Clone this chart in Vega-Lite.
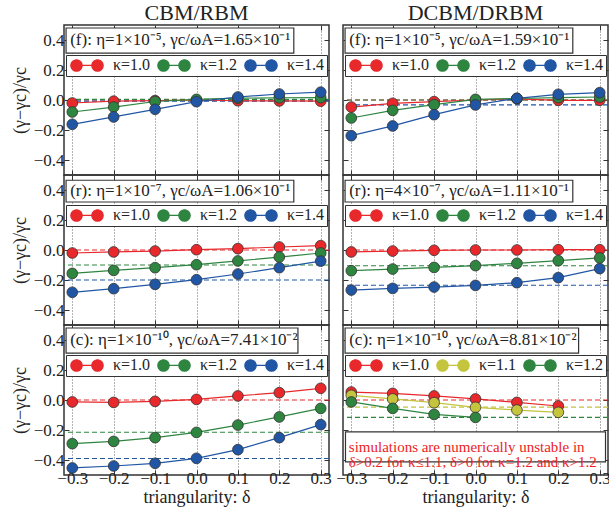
{
"$schema": "https://vega.github.io/schema/vega-lite/v6.json",
"padding": {"left": 10, "top": 0, "right": 2, "bottom": 2},
"background": "white",
"config": {
  "font": "Liberation Serif",
  "view": {"stroke": "#333", "strokeWidth": 1.5},
  "axis": {"labelFont": "Liberation Serif", "labelFontSize": 17, "labelColor": "#222", "titleFont": "Liberation Serif", "titleFontSize": 18, "titleFontWeight": "normal", "titleColor": "#222", "domain": false, "tickSize": -5, "tickColor": "#333", "tickWidth": 1, "grid": true, "gridColor": "#666", "gridDash": [1, 2], "gridWidth": 1},
  "axisX": {"labelPadding": 0, "titlePadding": 2},
  "axisY": {"labelPadding": 5, "titlePadding": 4},
  "legend": {"orient": "none", "legendX": 2, "legendY": 30, "direction": "horizontal", "columns": 3, "padding": 2, "strokeColor": "#333", "fillColor": "white", "symbolType": "M -2.7 0 A 0.95 0.95 0 1 0 -0.8 0 A 0.95 0.95 0 1 0 -2.7 0 Z M 0.8 0 A 0.95 0.95 0 1 0 2.7 0 A 0.95 0.95 0 1 0 0.8 0 Z M -0.8 0 L 0.8 0", "symbolSize": 144, "symbolOffset": 11, "labelOffset": 18, "columnPadding": 4, "rowPadding": 0, "labelFontSize": 16, "labelFont": "Liberation Serif", "labelColor": "#222", "symbolStrokeWidth": 1.2, "symbolOpacity": 1}
},
"datasets": {
  "f_cbm": [
    {"d": -0.3, "k": "κ=1.0", "v": -0.02}, {"d": -0.2, "k": "κ=1.0", "v": -0.008}, {"d": -0.1, "k": "κ=1.0", "v": -0.004}, {"d": 0.0, "k": "κ=1.0", "v": 0.0}, {"d": 0.1, "k": "κ=1.0", "v": -0.005}, {"d": 0.2, "k": "κ=1.0", "v": -0.006}, {"d": 0.3, "k": "κ=1.0", "v": -0.008},
    {"d": -0.3, "k": "κ=1.2", "v": -0.08}, {"d": -0.2, "k": "κ=1.2", "v": -0.047}, {"d": -0.1, "k": "κ=1.2", "v": -0.01}, {"d": 0.0, "k": "κ=1.2", "v": 0.004}, {"d": 0.1, "k": "κ=1.2", "v": 0.012}, {"d": 0.2, "k": "κ=1.2", "v": 0.015}, {"d": 0.3, "k": "κ=1.2", "v": 0.016},
    {"d": -0.3, "k": "κ=1.4", "v": -0.162}, {"d": -0.2, "k": "κ=1.4", "v": -0.113}, {"d": -0.1, "k": "κ=1.4", "v": -0.062}, {"d": 0.0, "k": "κ=1.4", "v": -0.011}, {"d": 0.1, "k": "κ=1.4", "v": 0.02}, {"d": 0.2, "k": "κ=1.4", "v": 0.04}, {"d": 0.3, "k": "κ=1.4", "v": 0.052}
  ],
  "f_cbm_ref": [{"k": "κ=1.0", "v": 0.0}, {"k": "κ=1.2", "v": 0.004}, {"k": "κ=1.4", "v": -0.007}],
  "f_dcbm": [
    {"d": -0.3, "k": "κ=1.0", "v": -0.047}, {"d": -0.2, "k": "κ=1.0", "v": -0.022}, {"d": -0.1, "k": "κ=1.0", "v": -0.011}, {"d": 0.0, "k": "κ=1.0", "v": 0.0}, {"d": 0.1, "k": "κ=1.0", "v": 0.008}, {"d": 0.2, "k": "κ=1.0", "v": -0.002}, {"d": 0.3, "k": "κ=1.0", "v": -0.002},
    {"d": -0.3, "k": "κ=1.2", "v": -0.12}, {"d": -0.2, "k": "κ=1.2", "v": -0.069}, {"d": -0.1, "k": "κ=1.2", "v": -0.031}, {"d": 0.0, "k": "κ=1.2", "v": 0.004}, {"d": 0.1, "k": "κ=1.2", "v": 0.01}, {"d": 0.2, "k": "κ=1.2", "v": 0.016}, {"d": 0.3, "k": "κ=1.2", "v": 0.02},
    {"d": -0.3, "k": "κ=1.4", "v": -0.238}, {"d": -0.2, "k": "κ=1.4", "v": -0.173}, {"d": -0.1, "k": "κ=1.4", "v": -0.098}, {"d": 0.0, "k": "κ=1.4", "v": -0.033}, {"d": 0.1, "k": "κ=1.4", "v": 0.011}, {"d": 0.2, "k": "κ=1.4", "v": 0.038}, {"d": 0.3, "k": "κ=1.4", "v": 0.049}
  ],
  "f_dcbm_ref": [{"k": "κ=1.0", "v": 0.0}, {"k": "κ=1.2", "v": 0.0}, {"k": "κ=1.4", "v": -0.033}],
  "r_cbm": [
    {"d": -0.3, "k": "κ=1.0", "v": -0.02}, {"d": -0.2, "k": "κ=1.0", "v": -0.013}, {"d": -0.1, "k": "κ=1.0", "v": -0.007}, {"d": 0.0, "k": "κ=1.0", "v": 0.002}, {"d": 0.1, "k": "κ=1.0", "v": 0.009}, {"d": 0.2, "k": "κ=1.0", "v": 0.02}, {"d": 0.3, "k": "κ=1.0", "v": 0.029},
    {"d": -0.3, "k": "κ=1.2", "v": -0.156}, {"d": -0.2, "k": "κ=1.2", "v": -0.136}, {"d": -0.1, "k": "κ=1.2", "v": -0.118}, {"d": 0.0, "k": "κ=1.2", "v": -0.098}, {"d": 0.1, "k": "κ=1.2", "v": -0.073}, {"d": 0.2, "k": "κ=1.2", "v": -0.047}, {"d": 0.3, "k": "κ=1.2", "v": -0.02},
    {"d": -0.3, "k": "κ=1.4", "v": -0.282}, {"d": -0.2, "k": "κ=1.4", "v": -0.258}, {"d": -0.1, "k": "κ=1.4", "v": -0.229}, {"d": 0.0, "k": "κ=1.4", "v": -0.198}, {"d": 0.1, "k": "κ=1.4", "v": -0.16}, {"d": 0.2, "k": "κ=1.4", "v": -0.118}, {"d": 0.3, "k": "κ=1.4", "v": -0.074}
  ],
  "r_cbm_ref": [{"k": "κ=1.0", "v": 0.0}, {"k": "κ=1.2", "v": -0.1}, {"k": "κ=1.4", "v": -0.2}],
  "r_dcbm": [
    {"d": -0.3, "k": "κ=1.0", "v": -0.013}, {"d": -0.2, "k": "κ=1.0", "v": -0.007}, {"d": -0.1, "k": "κ=1.0", "v": -0.002}, {"d": 0.0, "k": "κ=1.0", "v": 0.0}, {"d": 0.1, "k": "κ=1.0", "v": 0.0}, {"d": 0.2, "k": "κ=1.0", "v": 0.002}, {"d": 0.3, "k": "κ=1.0", "v": 0.002},
    {"d": -0.3, "k": "κ=1.2", "v": -0.138}, {"d": -0.2, "k": "κ=1.2", "v": -0.127}, {"d": -0.1, "k": "κ=1.2", "v": -0.116}, {"d": 0.0, "k": "κ=1.2", "v": -0.104}, {"d": 0.1, "k": "κ=1.2", "v": -0.089}, {"d": 0.2, "k": "κ=1.2", "v": -0.071}, {"d": 0.3, "k": "κ=1.2", "v": -0.053},
    {"d": -0.3, "k": "κ=1.4", "v": -0.267}, {"d": -0.2, "k": "κ=1.4", "v": -0.256}, {"d": -0.1, "k": "κ=1.4", "v": -0.247}, {"d": 0.0, "k": "κ=1.4", "v": -0.236}, {"d": 0.1, "k": "κ=1.4", "v": -0.218}, {"d": 0.2, "k": "κ=1.4", "v": -0.184}, {"d": 0.3, "k": "κ=1.4", "v": -0.124}
  ],
  "r_dcbm_ref": [{"k": "κ=1.0", "v": 0.0}, {"k": "κ=1.2", "v": -0.105}, {"k": "κ=1.4", "v": -0.235}],
  "c_cbm": [
    {"d": -0.3, "k": "κ=1.0", "v": -0.013}, {"d": -0.2, "k": "κ=1.0", "v": -0.016}, {"d": -0.1, "k": "κ=1.0", "v": -0.009}, {"d": 0.0, "k": "κ=1.0", "v": 0.004}, {"d": 0.1, "k": "κ=1.0", "v": 0.027}, {"d": 0.2, "k": "κ=1.0", "v": 0.049}, {"d": 0.3, "k": "κ=1.0", "v": 0.078},
    {"d": -0.3, "k": "κ=1.2", "v": -0.291}, {"d": -0.2, "k": "κ=1.2", "v": -0.276}, {"d": -0.1, "k": "κ=1.2", "v": -0.251}, {"d": 0.0, "k": "κ=1.2", "v": -0.216}, {"d": 0.1, "k": "κ=1.2", "v": -0.167}, {"d": 0.2, "k": "κ=1.2", "v": -0.113}, {"d": 0.3, "k": "κ=1.2", "v": -0.056},
    {"d": -0.3, "k": "κ=1.4", "v": -0.453}, {"d": -0.2, "k": "κ=1.4", "v": -0.44}, {"d": -0.1, "k": "κ=1.4", "v": -0.422}, {"d": 0.0, "k": "κ=1.4", "v": -0.389}, {"d": 0.1, "k": "κ=1.4", "v": -0.331}, {"d": 0.2, "k": "κ=1.4", "v": -0.251}, {"d": 0.3, "k": "κ=1.4", "v": -0.164}
  ],
  "c_cbm_ref": [{"k": "κ=1.0", "v": 0.0}, {"k": "κ=1.2", "v": -0.215}, {"k": "κ=1.4", "v": -0.39}],
  "c_dcbm": [
    {"d": -0.3, "k": "κ=1.0", "v": 0.053}, {"d": -0.2, "k": "κ=1.0", "v": 0.044}, {"d": -0.1, "k": "κ=1.0", "v": 0.027}, {"d": 0.0, "k": "κ=1.0", "v": 0.007}, {"d": 0.1, "k": "κ=1.0", "v": -0.016}, {"d": 0.2, "k": "κ=1.0", "v": -0.04},
    {"d": -0.3, "k": "κ=1.1", "v": 0.031}, {"d": -0.2, "k": "κ=1.1", "v": 0.007}, {"d": -0.1, "k": "κ=1.1", "v": -0.018}, {"d": 0.0, "k": "κ=1.1", "v": -0.049}, {"d": 0.1, "k": "κ=1.1", "v": -0.067}, {"d": 0.2, "k": "κ=1.1", "v": -0.082},
    {"d": -0.3, "k": "κ=1.2", "v": -0.013}, {"d": -0.2, "k": "κ=1.2", "v": -0.056}, {"d": -0.1, "k": "κ=1.2", "v": -0.096}, {"d": 0.0, "k": "κ=1.2", "v": -0.116}
  ],
  "c_dcbm_ref": [{"k": "κ=1.0", "v": 0.0}, {"k": "κ=1.1", "v": -0.047}, {"k": "κ=1.2", "v": -0.116}]
},
"columns": 2,
"bounds": "flush",
"spacing": {"row": 0, "column": 14},
"resolve": {"scale": {"color": "independent", "x": "independent", "y": "independent"}, "legend": {"color": "independent"}},
"concat": [
  {"width": 265, "height": 150,
   "title": {"text": "CBM/RBM", "fontSize": 22, "font": "Liberation Serif", "fontWeight": "normal", "color": "#222", "offset": 0, "frame": "group"},
   "resolve": {"axis": {"x": "independent", "y": "independent"}},
   "layer": [
    {"data": {"name": "f_cbm_ref"}, "mark": {"type": "rule", "strokeDash": [5, 3], "strokeWidth": 1.2},
     "encoding": {"y": {"field": "v", "type": "quantitative", "scale": {"domain": [-0.5, 0.5], "nice": false, "zero": false}, "axis": null},
                  "color": {"field": "k", "type": "nominal", "scale": {"domain": ["κ=1.0", "κ=1.2", "κ=1.4"], "range": ["#e8282b", "#2e8540", "#2156a5"]}}}},
    {"data": {"name": "f_cbm"}, "mark": {"type": "line", "strokeWidth": 1.2},
     "encoding": {"x": {"field": "d", "type": "quantitative", "scale": {"domain": [-0.32, 0.32], "nice": false, "zero": false}, "axis": {"values": [-0.3, -0.2, -0.1, 0, 0.1, 0.2, 0.3], "labels": false, "title": null}},
                  "y": {"field": "v", "type": "quantitative", "scale": {"domain": [-0.5, 0.5], "nice": false, "zero": false}, "axis": {"values": [-0.4, -0.2, 0, 0.2, 0.4], "format": ".1f", "title": "(γ−γc)/γc"}},
                  "color": {"field": "k", "type": "nominal", "scale": {"domain": ["κ=1.0", "κ=1.2", "κ=1.4"], "range": ["#e8282b", "#2e8540", "#2156a5"]}}}},
    {"data": {"name": "f_cbm"}, "mark": {"type": "point", "filled": true, "size": 115, "stroke": "#333", "strokeWidth": 0.8, "opacity": 1},
     "encoding": {"x": {"field": "d", "type": "quantitative", "axis": {"orient": "top", "values": [-0.3, -0.2, -0.1, 0, 0.1, 0.2, 0.3], "labels": false, "grid": false, "title": null}}, "y": {"field": "v", "type": "quantitative", "axis": {"orient": "right", "values": [-0.4, -0.2, 0, 0.2, 0.4], "labels": false, "grid": false, "title": null}},
                  "color": {"field": "k", "type": "nominal", "scale": {"domain": ["κ=1.0", "κ=1.2", "κ=1.4"], "range": ["#e8282b", "#2e8540", "#2156a5"]}, "legend": {"title": null, "encode": {"symbols": {"update": {"stroke": {"signal": "datum.value === 'κ=1.0' ? '#e8282b' : datum.value === 'κ=1.2' ? '#2e8540' : '#2156a5'"}}}}}}}},
    {"data": {"values": [{}]}, "mark": {"type": "rect", "fill": "white", "stroke": "#333", "strokeWidth": 1.2},
     "encoding": {"x": {"datum": -0.315, "type": "quantitative", "axis": null}, "x2": {"datum": 0.235}, "y": {"datum": 0.48, "type": "quantitative", "axis": null}, "y2": {"datum": 0.313}}},
    {"data": {"values": [{}]}, "mark": {"type": "text", "align": "left", "baseline": "middle", "fontSize": 17, "font": "Liberation Serif", "color": "#222"},
     "encoding": {"x": {"datum": -0.305, "type": "quantitative", "axis": null}, "y": {"datum": 0.397, "type": "quantitative", "axis": null}, "text": {"value": "(f): η=1×10⁻⁵, γc/ωA=1.65×10⁻¹"}}}
   ]},
  {"width": 265, "height": 150,
   "title": {"text": "DCBM/DRBM", "fontSize": 22, "font": "Liberation Serif", "fontWeight": "normal", "color": "#222", "offset": 0, "frame": "group"},
   "resolve": {"axis": {"x": "independent", "y": "independent"}},
   "layer": [
    {"data": {"name": "f_dcbm_ref"}, "mark": {"type": "rule", "strokeDash": [5, 3], "strokeWidth": 1.2},
     "encoding": {"y": {"field": "v", "type": "quantitative", "scale": {"domain": [-0.5, 0.5], "nice": false, "zero": false}, "axis": null},
                  "color": {"field": "k", "type": "nominal", "scale": {"domain": ["κ=1.0", "κ=1.2", "κ=1.4"], "range": ["#e8282b", "#2e8540", "#2156a5"]}}}},
    {"data": {"name": "f_dcbm"}, "mark": {"type": "line", "strokeWidth": 1.2},
     "encoding": {"x": {"field": "d", "type": "quantitative", "scale": {"domain": [-0.32, 0.32], "nice": false, "zero": false}, "axis": {"values": [-0.3, -0.2, -0.1, 0, 0.1, 0.2, 0.3], "labels": false, "title": null}},
                  "y": {"field": "v", "type": "quantitative", "scale": {"domain": [-0.5, 0.5], "nice": false, "zero": false}, "axis": {"values": [-0.4, -0.2, 0, 0.2, 0.4], "labels": false, "title": null}},
                  "color": {"field": "k", "type": "nominal", "scale": {"domain": ["κ=1.0", "κ=1.2", "κ=1.4"], "range": ["#e8282b", "#2e8540", "#2156a5"]}}}},
    {"data": {"name": "f_dcbm"}, "mark": {"type": "point", "filled": true, "size": 115, "stroke": "#333", "strokeWidth": 0.8, "opacity": 1},
     "encoding": {"x": {"field": "d", "type": "quantitative", "axis": {"orient": "top", "values": [-0.3, -0.2, -0.1, 0, 0.1, 0.2, 0.3], "labels": false, "grid": false, "title": null}}, "y": {"field": "v", "type": "quantitative", "axis": {"orient": "right", "values": [-0.4, -0.2, 0, 0.2, 0.4], "labels": false, "grid": false, "title": null}},
                  "color": {"field": "k", "type": "nominal", "scale": {"domain": ["κ=1.0", "κ=1.2", "κ=1.4"], "range": ["#e8282b", "#2e8540", "#2156a5"]}, "legend": {"title": null, "encode": {"symbols": {"update": {"stroke": {"signal": "datum.value === 'κ=1.0' ? '#e8282b' : datum.value === 'κ=1.2' ? '#2e8540' : '#2156a5'"}}}}}}}},
    {"data": {"values": [{}]}, "mark": {"type": "rect", "fill": "white", "stroke": "#333", "strokeWidth": 1.2},
     "encoding": {"x": {"datum": -0.315, "type": "quantitative", "axis": null}, "x2": {"datum": 0.235}, "y": {"datum": 0.48, "type": "quantitative", "axis": null}, "y2": {"datum": 0.313}}},
    {"data": {"values": [{}]}, "mark": {"type": "text", "align": "left", "baseline": "middle", "fontSize": 17, "font": "Liberation Serif", "color": "#222"},
     "encoding": {"x": {"datum": -0.305, "type": "quantitative", "axis": null}, "y": {"datum": 0.397, "type": "quantitative", "axis": null}, "text": {"value": "(f): η=1×10⁻⁵, γc/ωA=1.59×10⁻¹"}}}
   ]},
  {"width": 265, "height": 150,
   "resolve": {"axis": {"x": "independent", "y": "independent"}},
   "layer": [
    {"data": {"name": "r_cbm_ref"}, "mark": {"type": "rule", "strokeDash": [5, 3], "strokeWidth": 1.2},
     "encoding": {"y": {"field": "v", "type": "quantitative", "scale": {"domain": [-0.5, 0.5], "nice": false, "zero": false}, "axis": null},
                  "color": {"field": "k", "type": "nominal", "scale": {"domain": ["κ=1.0", "κ=1.2", "κ=1.4"], "range": ["#e8282b", "#2e8540", "#2156a5"]}}}},
    {"data": {"name": "r_cbm"}, "mark": {"type": "line", "strokeWidth": 1.2},
     "encoding": {"x": {"field": "d", "type": "quantitative", "scale": {"domain": [-0.32, 0.32], "nice": false, "zero": false}, "axis": {"values": [-0.3, -0.2, -0.1, 0, 0.1, 0.2, 0.3], "labels": false, "title": null}},
                  "y": {"field": "v", "type": "quantitative", "scale": {"domain": [-0.5, 0.5], "nice": false, "zero": false}, "axis": {"values": [-0.4, -0.2, 0, 0.2, 0.4], "format": ".1f", "title": "(γ−γc)/γc"}},
                  "color": {"field": "k", "type": "nominal", "scale": {"domain": ["κ=1.0", "κ=1.2", "κ=1.4"], "range": ["#e8282b", "#2e8540", "#2156a5"]}}}},
    {"data": {"name": "r_cbm"}, "mark": {"type": "point", "filled": true, "size": 115, "stroke": "#333", "strokeWidth": 0.8, "opacity": 1},
     "encoding": {"x": {"field": "d", "type": "quantitative", "axis": {"orient": "top", "values": [-0.3, -0.2, -0.1, 0, 0.1, 0.2, 0.3], "labels": false, "grid": false, "title": null}}, "y": {"field": "v", "type": "quantitative", "axis": {"orient": "right", "values": [-0.4, -0.2, 0, 0.2, 0.4], "labels": false, "grid": false, "title": null}},
                  "color": {"field": "k", "type": "nominal", "scale": {"domain": ["κ=1.0", "κ=1.2", "κ=1.4"], "range": ["#e8282b", "#2e8540", "#2156a5"]}, "legend": {"title": null, "encode": {"symbols": {"update": {"stroke": {"signal": "datum.value === 'κ=1.0' ? '#e8282b' : datum.value === 'κ=1.2' ? '#2e8540' : '#2156a5'"}}}}}}}},
    {"data": {"values": [{}]}, "mark": {"type": "rect", "fill": "white", "stroke": "#333", "strokeWidth": 1.2},
     "encoding": {"x": {"datum": -0.315, "type": "quantitative", "axis": null}, "x2": {"datum": 0.235}, "y": {"datum": 0.465, "type": "quantitative", "axis": null}, "y2": {"datum": 0.32}}},
    {"data": {"values": [{}]}, "mark": {"type": "text", "align": "left", "baseline": "middle", "fontSize": 17, "font": "Liberation Serif", "color": "#222"},
     "encoding": {"x": {"datum": -0.305, "type": "quantitative", "axis": null}, "y": {"datum": 0.392, "type": "quantitative", "axis": null}, "text": {"value": "(r): η=1×10⁻⁷, γc/ωA=1.06×10⁻¹"}}}
   ]},
  {"width": 265, "height": 150,
   "resolve": {"axis": {"x": "independent", "y": "independent"}},
   "layer": [
    {"data": {"name": "r_dcbm_ref"}, "mark": {"type": "rule", "strokeDash": [5, 3], "strokeWidth": 1.2},
     "encoding": {"y": {"field": "v", "type": "quantitative", "scale": {"domain": [-0.5, 0.5], "nice": false, "zero": false}, "axis": null},
                  "color": {"field": "k", "type": "nominal", "scale": {"domain": ["κ=1.0", "κ=1.2", "κ=1.4"], "range": ["#e8282b", "#2e8540", "#2156a5"]}}}},
    {"data": {"name": "r_dcbm"}, "mark": {"type": "line", "strokeWidth": 1.2},
     "encoding": {"x": {"field": "d", "type": "quantitative", "scale": {"domain": [-0.32, 0.32], "nice": false, "zero": false}, "axis": {"values": [-0.3, -0.2, -0.1, 0, 0.1, 0.2, 0.3], "labels": false, "title": null}},
                  "y": {"field": "v", "type": "quantitative", "scale": {"domain": [-0.5, 0.5], "nice": false, "zero": false}, "axis": {"values": [-0.4, -0.2, 0, 0.2, 0.4], "labels": false, "title": null}},
                  "color": {"field": "k", "type": "nominal", "scale": {"domain": ["κ=1.0", "κ=1.2", "κ=1.4"], "range": ["#e8282b", "#2e8540", "#2156a5"]}}}},
    {"data": {"name": "r_dcbm"}, "mark": {"type": "point", "filled": true, "size": 115, "stroke": "#333", "strokeWidth": 0.8, "opacity": 1},
     "encoding": {"x": {"field": "d", "type": "quantitative", "axis": {"orient": "top", "values": [-0.3, -0.2, -0.1, 0, 0.1, 0.2, 0.3], "labels": false, "grid": false, "title": null}}, "y": {"field": "v", "type": "quantitative", "axis": {"orient": "right", "values": [-0.4, -0.2, 0, 0.2, 0.4], "labels": false, "grid": false, "title": null}},
                  "color": {"field": "k", "type": "nominal", "scale": {"domain": ["κ=1.0", "κ=1.2", "κ=1.4"], "range": ["#e8282b", "#2e8540", "#2156a5"]}, "legend": {"title": null, "encode": {"symbols": {"update": {"stroke": {"signal": "datum.value === 'κ=1.0' ? '#e8282b' : datum.value === 'κ=1.2' ? '#2e8540' : '#2156a5'"}}}}}}}},
    {"data": {"values": [{}]}, "mark": {"type": "rect", "fill": "white", "stroke": "#333", "strokeWidth": 1.2},
     "encoding": {"x": {"datum": -0.315, "type": "quantitative", "axis": null}, "x2": {"datum": 0.235}, "y": {"datum": 0.465, "type": "quantitative", "axis": null}, "y2": {"datum": 0.32}}},
    {"data": {"values": [{}]}, "mark": {"type": "text", "align": "left", "baseline": "middle", "fontSize": 17, "font": "Liberation Serif", "color": "#222"},
     "encoding": {"x": {"datum": -0.305, "type": "quantitative", "axis": null}, "y": {"datum": 0.392, "type": "quantitative", "axis": null}, "text": {"value": "(r): η=4×10⁻⁷, γc/ωA=1.11×10⁻¹"}}}
   ]},
  {"width": 265, "height": 150,
   "resolve": {"axis": {"x": "independent", "y": "independent"}},
   "layer": [
    {"data": {"name": "c_cbm_ref"}, "mark": {"type": "rule", "strokeDash": [5, 3], "strokeWidth": 1.2},
     "encoding": {"y": {"field": "v", "type": "quantitative", "scale": {"domain": [-0.5, 0.5], "nice": false, "zero": false}, "axis": null},
                  "color": {"field": "k", "type": "nominal", "scale": {"domain": ["κ=1.0", "κ=1.2", "κ=1.4"], "range": ["#e8282b", "#2e8540", "#2156a5"]}}}},
    {"data": {"name": "c_cbm"}, "mark": {"type": "line", "strokeWidth": 1.2},
     "encoding": {"x": {"field": "d", "type": "quantitative", "scale": {"domain": [-0.32, 0.32], "nice": false, "zero": false}, "axis": {"values": [-0.3, -0.2, -0.1, 0, 0.1, 0.2, 0.3], "format": ".1f", "title": "triangularity: δ"}},
                  "y": {"field": "v", "type": "quantitative", "scale": {"domain": [-0.5, 0.5], "nice": false, "zero": false}, "axis": {"values": [-0.4, -0.2, 0, 0.2, 0.4], "format": ".1f", "title": "(γ−γc)/γc"}},
                  "color": {"field": "k", "type": "nominal", "scale": {"domain": ["κ=1.0", "κ=1.2", "κ=1.4"], "range": ["#e8282b", "#2e8540", "#2156a5"]}}}},
    {"data": {"name": "c_cbm"}, "mark": {"type": "point", "filled": true, "size": 115, "stroke": "#333", "strokeWidth": 0.8, "opacity": 1},
     "encoding": {"x": {"field": "d", "type": "quantitative", "axis": {"orient": "top", "values": [-0.3, -0.2, -0.1, 0, 0.1, 0.2, 0.3], "labels": false, "grid": false, "title": null}}, "y": {"field": "v", "type": "quantitative", "axis": {"orient": "right", "values": [-0.4, -0.2, 0, 0.2, 0.4], "labels": false, "grid": false, "title": null}},
                  "color": {"field": "k", "type": "nominal", "scale": {"domain": ["κ=1.0", "κ=1.2", "κ=1.4"], "range": ["#e8282b", "#2e8540", "#2156a5"]}, "legend": {"title": null, "encode": {"symbols": {"update": {"stroke": {"signal": "datum.value === 'κ=1.0' ? '#e8282b' : datum.value === 'κ=1.2' ? '#2e8540' : '#2156a5'"}}}}}}}},
    {"data": {"values": [{}]}, "mark": {"type": "rect", "fill": "white", "stroke": "#333", "strokeWidth": 1.2},
     "encoding": {"x": {"datum": -0.315, "type": "quantitative", "axis": null}, "x2": {"datum": 0.245}, "y": {"datum": 0.48, "type": "quantitative", "axis": null}, "y2": {"datum": 0.313}}},
    {"data": {"values": [{}]}, "mark": {"type": "text", "align": "left", "baseline": "middle", "fontSize": 17, "font": "Liberation Serif", "color": "#222"},
     "encoding": {"x": {"datum": -0.305, "type": "quantitative", "axis": null}, "y": {"datum": 0.397, "type": "quantitative", "axis": null}, "text": {"value": "(c): η=1×10⁻¹⁰, γc/ωA=7.41×10⁻²"}}}
   ]},
  {"width": 265, "height": 150,
   "resolve": {"axis": {"x": "independent", "y": "independent"}},
   "layer": [
    {"data": {"name": "c_dcbm_ref"}, "mark": {"type": "rule", "strokeDash": [5, 3], "strokeWidth": 1.2},
     "encoding": {"y": {"field": "v", "type": "quantitative", "scale": {"domain": [-0.5, 0.5], "nice": false, "zero": false}, "axis": null},
                  "color": {"field": "k", "type": "nominal", "scale": {"domain": ["κ=1.0", "κ=1.1", "κ=1.2"], "range": ["#e8282b", "#c4c43d", "#2e8540"]}}}},
    {"data": {"name": "c_dcbm"}, "mark": {"type": "line", "strokeWidth": 1.2},
     "encoding": {"x": {"field": "d", "type": "quantitative", "scale": {"domain": [-0.32, 0.32], "nice": false, "zero": false}, "axis": {"values": [-0.3, -0.2, -0.1, 0, 0.1, 0.2, 0.3], "format": ".1f", "title": "triangularity: δ"}},
                  "y": {"field": "v", "type": "quantitative", "scale": {"domain": [-0.5, 0.5], "nice": false, "zero": false}, "axis": {"values": [-0.4, -0.2, 0, 0.2, 0.4], "labels": false, "title": null}},
                  "color": {"field": "k", "type": "nominal", "scale": {"domain": ["κ=1.0", "κ=1.1", "κ=1.2"], "range": ["#e8282b", "#c4c43d", "#2e8540"]}}}},
    {"data": {"name": "c_dcbm"}, "mark": {"type": "point", "filled": true, "size": 115, "stroke": "#333", "strokeWidth": 0.8, "opacity": 1},
     "encoding": {"x": {"field": "d", "type": "quantitative", "axis": {"orient": "top", "values": [-0.3, -0.2, -0.1, 0, 0.1, 0.2, 0.3], "labels": false, "grid": false, "title": null}}, "y": {"field": "v", "type": "quantitative", "axis": {"orient": "right", "values": [-0.4, -0.2, 0, 0.2, 0.4], "labels": false, "grid": false, "title": null}},
                  "color": {"field": "k", "type": "nominal", "scale": {"domain": ["κ=1.0", "κ=1.1", "κ=1.2"], "range": ["#e8282b", "#c4c43d", "#2e8540"]}, "legend": {"title": null, "encode": {"symbols": {"update": {"stroke": {"signal": "datum.value === 'κ=1.0' ? '#e8282b' : datum.value === 'κ=1.1' ? '#c4c43d' : '#2e8540'"}}}}}}}},
    {"data": {"values": [{}]}, "mark": {"type": "rect", "fill": "white", "stroke": "#333", "strokeWidth": 1.2},
     "encoding": {"x": {"datum": -0.315, "type": "quantitative", "axis": null}, "x2": {"datum": 0.249}, "y": {"datum": 0.48, "type": "quantitative", "axis": null}, "y2": {"datum": 0.313}}},
    {"data": {"values": [{}]}, "mark": {"type": "text", "align": "left", "baseline": "middle", "fontSize": 17, "font": "Liberation Serif", "color": "#222"},
     "encoding": {"x": {"datum": -0.305, "type": "quantitative", "axis": null}, "y": {"datum": 0.397, "type": "quantitative", "axis": null}, "text": {"value": "(c): η=1×10⁻¹⁰, γc/ωA=8.81×10⁻²"}}},
    {"data": {"values": [{}]}, "mark": {"type": "rect", "fill": "white", "stroke": "#333", "strokeWidth": 1.2},
     "encoding": {"x": {"datum": -0.314, "type": "quantitative", "axis": null}, "x2": {"datum": 0.314}, "y": {"datum": -0.213, "type": "quantitative", "axis": null}, "y2": {"datum": -0.413}}},
    {"data": {"values": [{}]}, "mark": {"type": "text", "align": "left", "baseline": "middle", "fontSize": 15, "font": "Liberation Serif", "color": "#ee1c24", "lineHeight": 15},
     "encoding": {"x": {"datum": -0.306, "type": "quantitative", "axis": null}, "y": {"datum": -0.313, "type": "quantitative", "axis": null}, "text": {"value": ["simulations are numerically unstable in", "δ>0.2 for κ≤1.1, δ>0 for κ=1.2 and κ>1.2"]}}}
   ]}
]
}
